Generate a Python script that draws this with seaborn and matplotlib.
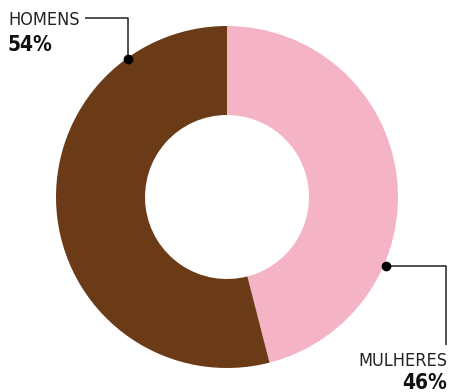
import matplotlib
matplotlib.use("Agg")
import matplotlib.pyplot as plt
import seaborn as sns

sns.set_theme(style="white")
plt.rcParams['font.family'] = ['DejaVu Sans']
plt.rcParams['font.stretch'] = 'condensed'

categories = ["MULHERES", "HOMENS"]
shares = [46, 54]
colors = ["#F5B3C6", "#6B3A16"]

W, H = 451, 392
fig = plt.figure(figsize=(W / 100, H / 100), dpi=100)
ax = fig.add_axes([0, 0, 1, 1])

def py(y):
    return H - y

cx, cy, r_out, r_in = 227, 197, 171, 82
ax.pie(shares, colors=colors, startangle=90, counterclock=False,
       center=(cx, py(cy)), radius=r_out,
       wedgeprops=dict(width=r_out - r_in, linewidth=0), frame=True)
ax.set_xlim(0, W)
ax.set_ylim(0, H)
ax.set_aspect("equal")
ax.axis("off")

line_kw = dict(color="#222222", lw=1.1, solid_capstyle="butt")
lab_kw = dict(fontsize=13, color="#222222", va="baseline", fontstretch="condensed")
pct_kw = dict(fontsize=15, fontweight="bold", color="#111111", va="baseline",
              fontstretch="condensed")

# HOMENS leader
ax.plot([85, 128, 128], [py(18), py(18), py(59)], **line_kw)
ax.plot([128], [py(59)], "o", color="black", ms=6)
ax.text(8, py(25), categories[1], ha="left", **lab_kw)
ax.text(8, py(51), f"{shares[1]}%", ha="left", **pct_kw)

# MULHERES leader
ax.plot([386, 446, 446], [py(266), py(266), py(345)], **line_kw)
ax.plot([386], [py(266)], "o", color="black", ms=6)
ax.text(447, py(366), categories[0], ha="right", **lab_kw)
ax.text(447, py(389), f"{shares[0]}%", ha="right", **pct_kw)

fig.savefig("out.png", dpi=100)
